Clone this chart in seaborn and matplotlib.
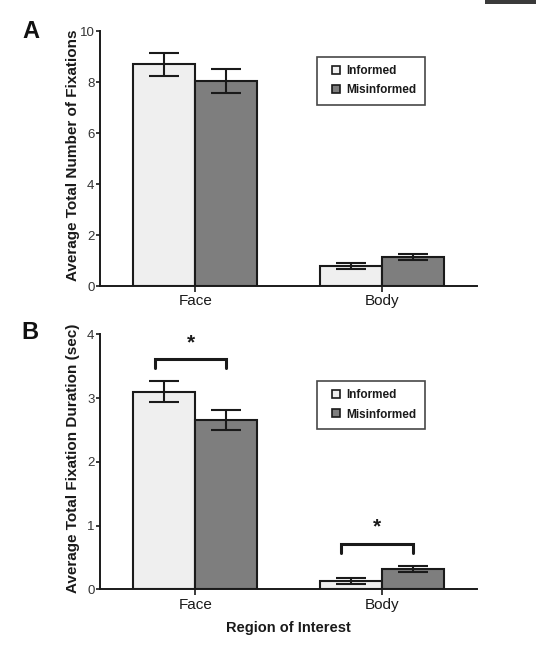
import matplotlib
matplotlib.use("Agg")
from matplotlib import pyplot as plt
from matplotlib.lines import Line2D
from matplotlib.patches import Rectangle
import numpy as np
import pandas as pd
import seaborn as sns

regions = ["Face", "Body"]
groups = ["Informed", "Misinformed"]

# panel A: average total number of fixations (mean, error)
fix_informed = [8.70, 0.80]
fix_misinformed = [8.05, 1.15]
fix_err_informed = [0.45, 0.12]
fix_err_misinformed = [0.47, 0.12]

# panel B: average total fixation duration in sec (mean, error)
dur_informed = [3.10, 0.125]
dur_misinformed = [2.66, 0.32]
dur_err_informed = [0.16, 0.045]
dur_err_misinformed = [0.16, 0.045]

colors = {"Informed": "#efefef", "Misinformed": "#7e7e7e"}

sns.set_style("ticks")
plt.rcParams['font.family'] = ['Liberation Sans', 'DejaVu Sans']


def make_df(inf, mis):
    rows = []
    for i, r in enumerate(regions):
        rows.append({"region": r, "group": "Informed", "value": inf[i]})
        rows.append({"region": r, "group": "Misinformed", "value": mis[i]})
    return pd.DataFrame(rows)


def draw_panel(ax, df, errs, ylim, yticks, ylabel, legend_top):
    sns.barplot(data=df, x="region", y="value", hue="group", order=regions,
                hue_order=groups, palette=colors, width=0.667, gap=0,
                edgecolor="#1a1a1a", linewidth=1.5, errorbar=None, ax=ax,
                legend=False)
    for cont, err in zip(ax.containers, errs):
        xs = [b.get_x() + b.get_width() / 2 for b in cont]
        ys = [b.get_height() for b in cont]
        ax.errorbar(xs, ys, yerr=err, fmt="none", ecolor="#1a1a1a",
                    elinewidth=1.5, capsize=11, capthick=1.5, zorder=5)
    ax.set_xlim(-0.51, 1.51)
    ax.set_ylim(*ylim)
    ax.set_yticks(yticks)
    ax.set_xlabel("")
    ax.set_ylabel(ylabel, fontsize=11, fontweight="bold", color="#1a1a1a")
    ax.yaxis.set_label_coords(-0.052, 0.512)
    sns.despine(ax=ax)
    for s in ["left", "bottom"]:
        ax.spines[s].set_linewidth(1.4)
        ax.spines[s].set_color("#1a1a1a")
    ax.tick_params(axis="y", labelsize=9.5, length=3, width=1.2,
                   colors="#1a1a1a", labelcolor="#333333", pad=1)
    ax.tick_params(axis="x", labelsize=11, length=4, width=1.2,
                   colors="#1a1a1a", labelcolor="#1a1a1a", pad=2)
    handles = [Line2D([], [], linestyle="none", marker="s", markersize=6,
                      markerfacecolor=colors[g], markeredgecolor="#1a1a1a",
                      markeredgewidth=1.2, label=g) for g in groups]
    leg = ax.legend(handles=handles, loc="upper left",
                    bbox_to_anchor=(0.576, legend_top), borderaxespad=0,
                    frameon=True, fancybox=False, handlelength=1.8,
                    handletextpad=0.0, labelspacing=0.6,
                    borderpad=0.7, prop={"weight": "bold", "size": 8.5})
    leg.get_frame().set_edgecolor("#1a1a1a")
    leg.get_frame().set_linewidth(1.2)
    for t in leg.get_texts():
        t.set_color("#1a1a1a")


def add_bracket(ax, i):
    b1 = ax.containers[0][i]
    b2 = ax.containers[1][i]
    x1 = b1.get_x() + b1.get_width() / 2 - 0.05
    x2 = b2.get_x() + b2.get_width() / 2
    top = max(b1.get_height() + dur_err_informed[i],
              b2.get_height() + dur_err_misinformed[i])
    y = top + 0.35
    ax.plot([x1, x1, x2, x2], [y - 0.14, y, y, y - 0.14], color="#1a1a1a",
            lw=2.2, solid_joinstyle="miter", clip_on=False)
    ax.text((x1 + x2) / 2, y + 0.26, "*", ha="center", va="center",
            fontsize=15, fontweight="bold", color="#1a1a1a")


fig = plt.figure(figsize=(5.36, 6.56), dpi=100)
axA = fig.add_axes([0.1866, 0.564, 0.7034, 0.3887])
axB = fig.add_axes([0.1866, 0.1017, 0.7034, 0.3887])

draw_panel(axA, make_df(fix_informed, fix_misinformed),
           [fix_err_informed, fix_err_misinformed], (0, 10),
           [0, 2, 4, 6, 8, 10], "Average Total Number of Fixations", 0.898)
draw_panel(axB, make_df(dur_informed, dur_misinformed),
           [dur_err_informed, dur_err_misinformed], (0, 4),
           [0, 1, 2, 3, 4], "Average Total Fixation Duration (sec)", 0.816)
axB.set_xlabel("Region of Interest", fontsize=10.5, fontweight="bold",
               color="#1a1a1a", labelpad=7)
add_bracket(axB, 0)
add_bracket(axB, 1)

fig.text(31 / 536, 1 - 31 / 656, "A", fontsize=17, fontweight="bold",
         ha="center", va="center", color="#111111")
fig.text(30 / 536, 1 - 333 / 656, "B", fontsize=17, fontweight="bold",
         ha="center", va="center", color="#111111")

# dark tab in the top-right corner of the screenshot
fig.patches.append(Rectangle((485 / 536, 1 - 4 / 656), 51 / 536, 4 / 656,
                             transform=fig.transFigure, facecolor="#3a3a3a",
                             edgecolor="none"))

fig.savefig("out.png", dpi=100)
